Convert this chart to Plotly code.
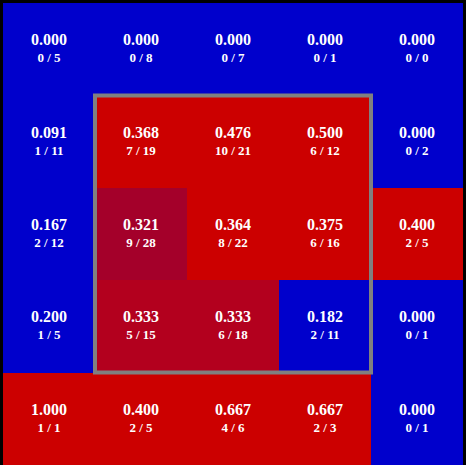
import plotly.graph_objects as go

# Data (rows top -> bottom, columns left -> right)
row_labels = ["r0", "r1", "r2", "r3", "r4"]
col_labels = ["c0", "c1", "c2", "c3", "c4"]
numerators = [
    [0, 0, 0, 0, 0],
    [1, 7, 10, 6, 0],
    [2, 9, 8, 6, 2],
    [1, 5, 6, 2, 0],
    [1, 2, 4, 2, 0],
]
denominators = [
    [5, 8, 7, 1, 0],
    [11, 19, 21, 12, 2],
    [12, 28, 22, 16, 5],
    [5, 15, 18, 11, 1],
    [1, 5, 6, 3, 1],
]
highlight_cols = (1, 3)
highlight_rows = (1, 3)

ratios = [[(n / d if d else 0.0) for n, d in zip(nr, dr)]
          for nr, dr in zip(numerators, denominators)]
texts = [[f"<b><span style='font-size:16px'>{r:.3f}</span></b><br><b>{n} / {d}</b>"
          for r, n, d in zip(rr, nr, dr)]
         for rr, nr, dr in zip(ratios, numerators, denominators)]

colorscale = [
    [0.0, "#0000CC"], [0.3, "#0000CC"],
    [0.3, "#A3002A"], [0.321, "#A3002A"],
    [0.333, "#B3001E"], [0.36, "#CC0000"],
    [1.0, "#CC0000"],
]

fig = go.Figure(go.Heatmap(
    z=ratios, x=col_labels, y=row_labels,
    text=texts, texttemplate="%{text}",
    textfont=dict(family="Liberation Serif", size=13, color="white"),
    colorscale=colorscale, zmin=0, zmax=1, showscale=False,
    hoverinfo="skip", xgap=0, ygap=0,
))

fig.add_shape(
    type="rect", xref="x", yref="y",
    x0=highlight_cols[0] - 0.5, x1=highlight_cols[1] + 0.5,
    y0=highlight_rows[0] - 0.5, y1=highlight_rows[1] + 0.5,
    line=dict(color="#808080", width=4), fillcolor="rgba(0,0,0,0)",
)

fig.update_xaxes(visible=False, showgrid=False, zeroline=False)
fig.update_yaxes(visible=False, showgrid=False, zeroline=False, autorange="reversed")
fig.update_layout(
    width=466, height=465,
    margin=dict(l=3, r=3, t=3, b=0, pad=0),
    paper_bgcolor="black", plot_bgcolor="black",
)
fig.write_html("out.html", config={"displayModeBar": False},
               post_script="document.body.style.margin='0';")
